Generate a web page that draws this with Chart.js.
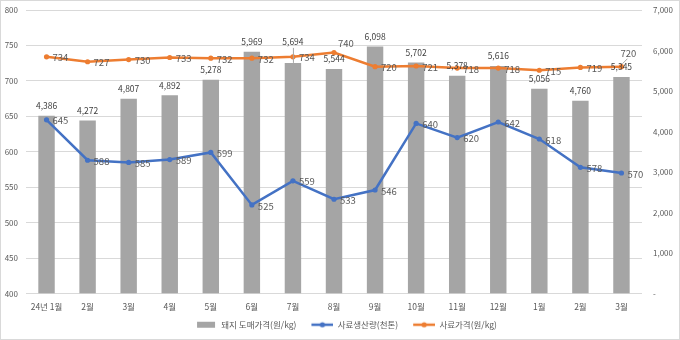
<!DOCTYPE html>
<html><head><meta charset="utf-8">
<script src="https://cdn.jsdelivr.net/npm/chart.js@4/dist/chart.umd.min.js"></script>
<style>
html,body{margin:0;padding:0;background:#fff;}
canvas{display:block}
</style></head><body>
<canvas id="c" width="680" height="340"></canvas>
<script>
const months = ['24년 1월','2월','3월','4월','5월','6월','7월','8월','9월','10월','11월','12월','1월','2월','3월'];
const pigPrice = [4386,4272,4807,4892,5278,5969,5694,5544,6098,5702,5378,5616,5056,4760,5345];
const feedOutput = [645,588,585,589,599,525,559,533,546,640,620,642,618,578,570];
const feedPrice = [734,727,730,733,732,732,734,740,720,721,718,718,715,719,720];
const seriesNames = ['돼지 도매가격(원/kg)','사료생산량(천톤)','사료가격(원/kg)'];
const leftTicks = [400,450,500,550,600,650,700,750,800];
const rightTicks = [0,1000,2000,3000,4000,5000,6000,7000];

const FONT = '"Noto Sans CJK KR", "Noto Sans", sans-serif';
const GRAY = '#A5A5A5', BLUE = '#4472C4', ORANGE = '#ED7D31';

function swatch(kind, color){
  const c = document.createElement('canvas');
  c.width = 34; c.height = 8;
  const x = c.getContext('2d');
  if (kind === 'bar') { x.fillStyle = color; x.fillRect(14,1,18,6); }
  else {
    x.strokeStyle = color; x.lineWidth = 2.5;
    x.beginPath(); x.moveTo(12,4); x.lineTo(34,4); x.stroke();
    x.fillStyle = color; x.beginPath(); x.arc(23,4,2.6,0,Math.PI*2); x.fill();
  }
  return c;
}

const fmt = v => v.toLocaleString('en-US');

const labelPlugin = {
  id: 'vlabels',
  afterDatasetsDraw(chart){
    const ctx = chart.ctx;
    ctx.save();
    ctx.font = '8.5px ' + FONT;
    ctx.fillStyle = '#404040';
    ctx.textAlign = 'center'; ctx.textBaseline = 'middle';
    chart.getDatasetMeta(0).data.forEach((el,i)=>{
      let y = el.y - 10;
      if (i === 6) {
        y = el.y - 21;
        ctx.save(); ctx.strokeStyle = '#A6A6A6'; ctx.lineWidth = 1;
        ctx.beginPath(); ctx.moveTo(el.x+0.5, el.y - 15); ctx.lineTo(el.x+0.5, el.y); ctx.stroke(); ctx.restore();
      }
      ctx.fillText(fmt(pigPrice[i]), el.x, y);
    });
    ctx.font = '9.5px ' + FONT;
    ctx.fillStyle = '#595959';
    ctx.textAlign = 'left';
    chart.getDatasetMeta(1).data.forEach((el,i)=>{
      ctx.fillText(String(feedOutput[i]), el.x + 6, el.y + 1);
    });
    chart.getDatasetMeta(2).data.forEach((el,i)=>{
      if (i === 7) { ctx.fillText(String(feedPrice[i]), el.x + 4, el.y - 9); return; }
      if (i === feedPrice.length - 1) {
        ctx.save(); ctx.strokeStyle = '#A6A6A6'; ctx.lineWidth = 1;
        ctx.beginPath(); ctx.moveTo(el.x + 1, el.y - 3); ctx.lineTo(el.x + 6, el.y - 8); ctx.stroke(); ctx.restore();
        ctx.textAlign = 'center';
        ctx.fillText(String(feedPrice[i]), el.x + 7, el.y - 13);
        ctx.textAlign = 'left';
        return;
      }
      ctx.fillText(String(feedPrice[i]), el.x + 6, el.y + 1);
    });
    ctx.restore();
  },
  afterDraw(chart){
    const ctx = chart.ctx;
    ctx.save();
    ctx.strokeStyle = '#D9D9D9'; ctx.lineWidth = 1;
    ctx.strokeRect(0.5, 0.5, 679, 339);
    ctx.restore();
  }
};

function fitV(w){ return s => { s.width = w; s.paddingTop = 0; s.paddingBottom = 0; }; }

new Chart(document.getElementById('c'), {
  data: {
    labels: months,
    datasets: [
      { type:'bar', label: seriesNames[0], data: pigPrice, yAxisID:'y1', backgroundColor: GRAY,
        categoryPercentage: 0.8, barPercentage: 0.5, order: 2 },
      { type:'line', label: seriesNames[1], data: feedOutput, yAxisID:'y', borderColor: BLUE, backgroundColor: BLUE,
        borderWidth: 2.5, pointRadius: 2.6, pointHoverRadius: 2.6, pointBorderWidth: 0, tension: 0, order: 1,
        pointStyle: 'circle' },
      { type:'line', label: seriesNames[2], data: feedPrice, yAxisID:'y', borderColor: ORANGE, backgroundColor: ORANGE,
        borderWidth: 2.5, pointRadius: 2.6, pointHoverRadius: 2.6, pointBorderWidth: 0, tension: 0, order: 0,
        pointStyle: 'circle' }
    ]
  },
  options: {
    responsive: false,
    animation: false,
    layout: { padding: { top: 10, left: 0, right: 0, bottom: 1 } },
    plugins: {
      tooltip: { enabled: false },
      legend: {
        position: 'bottom',
        labels: {
          usePointStyle: true,
          pointStyleWidth: 34,
          boxHeight: 8,
          padding: 3,
          color: '#595959',
          font: { size: 8.5, family: FONT },
          sort: (a,b) => a.datasetIndex - b.datasetIndex,
          generateLabels(chart){
            const sw = [swatch('bar',GRAY), swatch('line',BLUE), swatch('line',ORANGE)];
            return chart.data.datasets.map((ds,i)=>({
              text: ds.label, datasetIndex: i, pointStyle: sw[i], fillStyle: 'transparent',
              strokeStyle: 'transparent', lineWidth: 0, fontColor: '#595959', hidden: false
            }));
          }
        }
      }
    },
    scales: {
      x: {
        grid: { display: false, drawTicks: false },
        border: { display: false },
        ticks: { color: '#595959', font: { size: 8.5, family: FONT }, padding: 8, maxRotation: 0, autoSkip: false },
        afterFit(s){ s.height = 24; s.paddingLeft = 0; s.paddingRight = 0; }
      },
      y: {
        position: 'left', min: 400, max: 800,
        afterBuildTicks(s){ s.ticks = leftTicks.map(v=>({value:v})); },
        grid: { color: '#D9D9D9', lineWidth: 1, drawTicks: false },
        border: { display: false },
        ticks: { color: '#595959', font: { size: 8, family: FONT }, padding: 8 },
        afterFit: fitV(26)
      },
      y1: {
        position: 'right', min: 0, max: 7000,
        afterBuildTicks(s){ s.ticks = rightTicks.map(v=>({value:v})); },
        grid: { display: false, drawTicks: false },
        border: { display: false },
        ticks: { color: '#595959', font: { size: 8, family: FONT }, padding: 11,
          callback: v => v === 0 ? '-' : fmt(v) },
        afterFit: fitV(38)
      }
    }
  },
  plugins: [labelPlugin]
});
</script>
</body></html>
